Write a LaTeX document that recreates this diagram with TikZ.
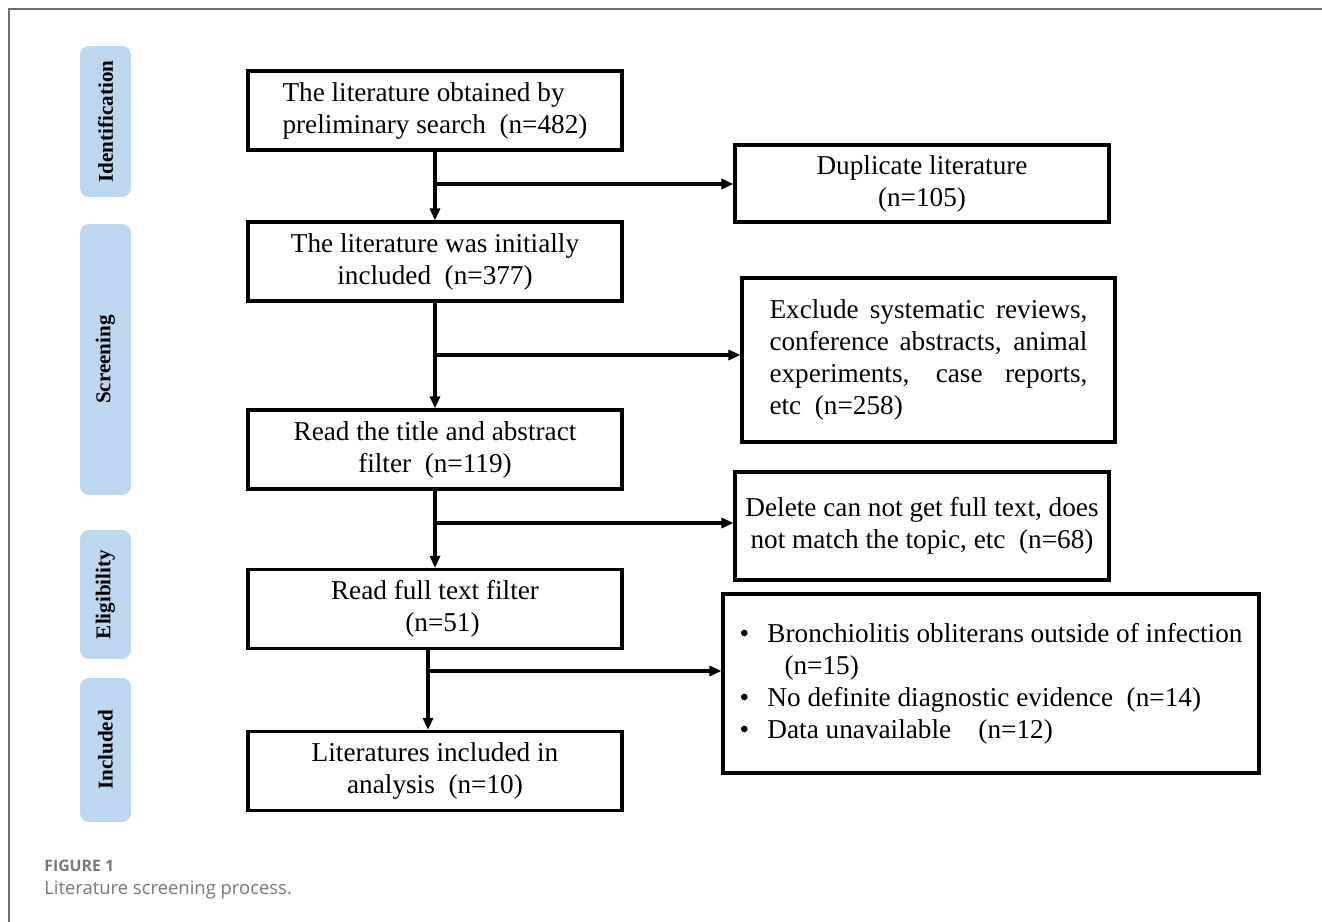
\documentclass[tikz,border=0pt]{standalone}
\usepackage{fontspec}
\setmainfont{Liberation Serif}
\newfontfamily\capfont{Open Sans}
\usetikzlibrary{arrows.meta}
\definecolor{stageblue}{RGB}{189,215,238}
\definecolor{framegray}{RGB}{110,110,110}
\definecolor{capgray}{RGB}{120,120,120}
\tikzset{
  stage/.style={fill=stageblue, rounded corners=0.18cm, minimum height=1.02cm,
    rotate=90, font=\fontsize{12}{14}\selectfont\bfseries},
  box/.style={draw, line width=1.8pt, minimum width=7.48cm, minimum height=1.58cm,
    align=center, inner sep=2pt, font=\fontsize{15.5}{18.2}\selectfont},
  flow/.style={line width=1.8pt, -{Triangle[length=0.24cm,width=0.2cm]}}
}
\newcommand{\fillline}[1]{\makebox[6.36cm][s]{#1}}
\begin{document}
\begin{tikzpicture}[x=0.02cm,y=-0.02cm]
      \useasboundingbox (0,0) rectangle (1322,922);
      \draw[framegray, line width=1.1pt] (9,922) -- (9,9) -- (1322,9);
      % stages
      \node[stage, minimum width=3.02cm] (id) at (105.5,121.5) {Identification};
      \node[stage, minimum width=5.42cm] (sc) at (105.5,359.5) {Screening};
      \node[stage, minimum width=2.58cm] (el) at (105.5,594.5) {Eligibility};
      \node[stage, minimum width=2.88cm] (in) at (105.5,750) {Included};
      % main column
      \node[box, align=left, text depth=0.08cm] (b1) at (435,110.5)
        {The literature obtained by\\preliminary search\enspace(n=482)};
      \node[box] (b2) at (435,261.5) {The literature was initially\\included\enspace(n=377)};
      \node[box] (b3) at (435,449.5) {Read the title and abstract\\filter\enspace(n=119)};
      \node[box] (b4) at (435,609) {Read full text filter\\\hspace*{0.3cm}(n=51)};
      \node[box] (b5) at (435,771) {Literatures included in\\analysis\enspace(n=10)};
      % side column
      \node[box, minimum height=1.54cm] (d1) at (922,183.5) {Duplicate literature\\(n=105)};
      \node[box, minimum width=7.46cm, minimum height=3.28cm, align=left] (d2) at (928.5,360)
        {\fillline{Exclude systematic reviews,}\\
         \fillline{conference abstracts, animal}\\
         \fillline{experiments, case reports,}\\
         etc\enspace(n=258)};
      \node[box, minimum height=2.16cm] (d3) at (922,526)
        {Delete can not get full text, does\\not match the topic, etc\enspace(n=68)};
      \node[box, minimum width=10.72cm, minimum height=3.58cm, align=left] (d4) at (991,683.5)
        {\makebox[0.56cm][l]{\textbullet}Bronchiolitis obliterans outside of infection\\
         \hspace*{0.9cm}(n=15)\\
         \makebox[0.56cm][l]{\textbullet}No definite diagnostic evidence\enspace(n=14)\\
         \makebox[0.56cm][l]{\textbullet}Data unavailable\quad(n=12)};
      % branch points
      \coordinate (k1) at (435,184);
      \coordinate (k2) at (435,355);
      \coordinate (k3) at (435,523);
      \coordinate (k4) at (428,671);
      \begin{scope}[flow]
        \draw (b1) -- (b2);
        \draw (b2) -- (b3);
        \draw (b3) -- (b4);
        \draw ([xshift=-0.14cm]b4.south) -- ([xshift=-0.14cm]b5.north);
        \draw (k1) -- (k1 -| d1.west);
        \draw (k2) -- (k2 -| d2.west);
        \draw (k3) -- (k3 -| d3.west);
        \draw (k4) -- (k4 -| d4.west);
      \end{scope}
      % caption
      \node[anchor=base west, inner sep=0, text=capgray,
        font=\capfont\fontsize{9}{11}\selectfont\bfseries] (fig) at (44,871) {FIGURE 1};
      \node[anchor=base west, inner sep=0, text=capgray,
        font=\capfont\fontsize{10.5}{12}\selectfont] (cap) at (44,894) {Literature screening process.};
\end{tikzpicture}
\end{document}
